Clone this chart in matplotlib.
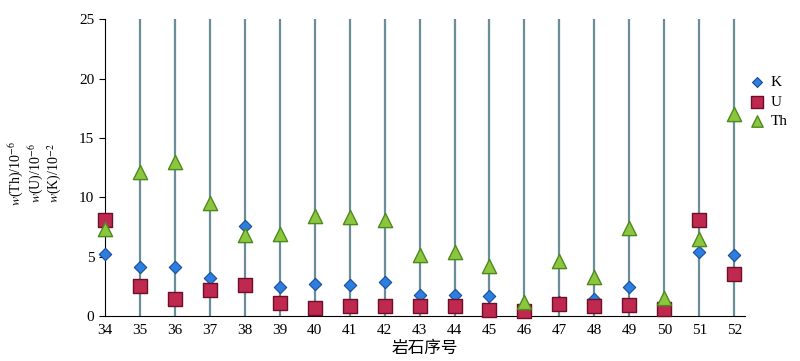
import matplotlib
matplotlib.use("Agg")
import matplotlib.pyplot as plt

plt.rcParams['font.family'] = ['Liberation Serif', 'Noto Sans CJK SC']
plt.rcParams['mathtext.fontset'] = 'stix'

# rock sample numbers
samples = list(range(34, 53))

# K (10^-2), U (10^-6), Th (10^-6)
k_vals = [5.2, 4.1, 4.1, 3.2, 7.6, 2.4, 2.7, 2.6, 2.9, 1.8, 1.8, 1.7, 0.4, 1.2, 1.4, 2.4, 0.6, 5.4, 5.1]
u_vals = [8.1, 2.5, 1.4, 2.2, 2.6, 1.1, 0.7, 0.8, 0.8, 0.8, 0.8, 0.5, 0.4, 1.0, 0.8, 0.9, 0.6, 8.1, 3.5]
th_vals = [7.3, 12.1, 13.0, 9.5, 6.8, 6.9, 8.4, 8.3, 8.1, 5.1, 5.4, 4.2, 1.2, 4.6, 3.3, 7.4, 1.5, 6.5, 17.0]

y_ticks = [0, 5, 10, 15, 20, 25]

fig = plt.figure(figsize=(8, 3.61), dpi=100)
ax = fig.add_axes([0.131, 0.1247, 0.8, 0.822])

# vertical lines at each sample (not the first, that's the spine)
for s in samples[1:]:
    ax.plot([s, s], [0, 25], color='#6a8d98', linewidth=1.6, zorder=1)

ax.scatter(samples, k_vals, marker='D', s=40, color='#2c7fe0', edgecolor='#174c9c',
           linewidth=0.8, label='K', zorder=3, clip_on=False)
ax.scatter(samples, u_vals, marker='s', s=105, color='#c0294f', edgecolor='#6e0f2a',
           linewidth=1.0, label='U', zorder=4, clip_on=False)
ax.scatter(samples, th_vals, marker='^', s=105, color='#8cc63e', edgecolor='#4d8a1c',
           linewidth=1.0, label='Th', zorder=5, clip_on=False)

ax.set_xlim(34, 52.3)
ax.set_ylim(0, 25)
ax.set_xticks(samples)
ax.set_yticks(y_ticks)
ax.tick_params(axis='both', labelsize=11, length=4, width=0.8)
ax.tick_params(axis='x', length=0, pad=6)
ax.spines['top'].set_visible(False)
ax.spines['right'].set_visible(False)
ax.set_xlabel('岩石序号', fontsize=12, family=['Noto Sans CJK SC'], labelpad=2)

# stacked y labels
fig.text(0.021, 0.52, r'$w$(Th)/10$^{-6}$', rotation=90, fontsize=10, ha='center', va='center')
fig.text(0.045, 0.52, r'$w$(U)/10$^{-6}$', rotation=90, fontsize=10, ha='center', va='center')
fig.text(0.069, 0.52, r'$w$(K)/10$^{-2}$', rotation=90, fontsize=10, ha='center', va='center')

ax.legend(loc='upper left', bbox_to_anchor=(0.995, 0.83), frameon=False, fontsize=11,
          handletextpad=0.3, labelspacing=0.35, borderaxespad=0, handlelength=1.2,
          markerscale=0.8)

fig.savefig('out.png', dpi=100)
